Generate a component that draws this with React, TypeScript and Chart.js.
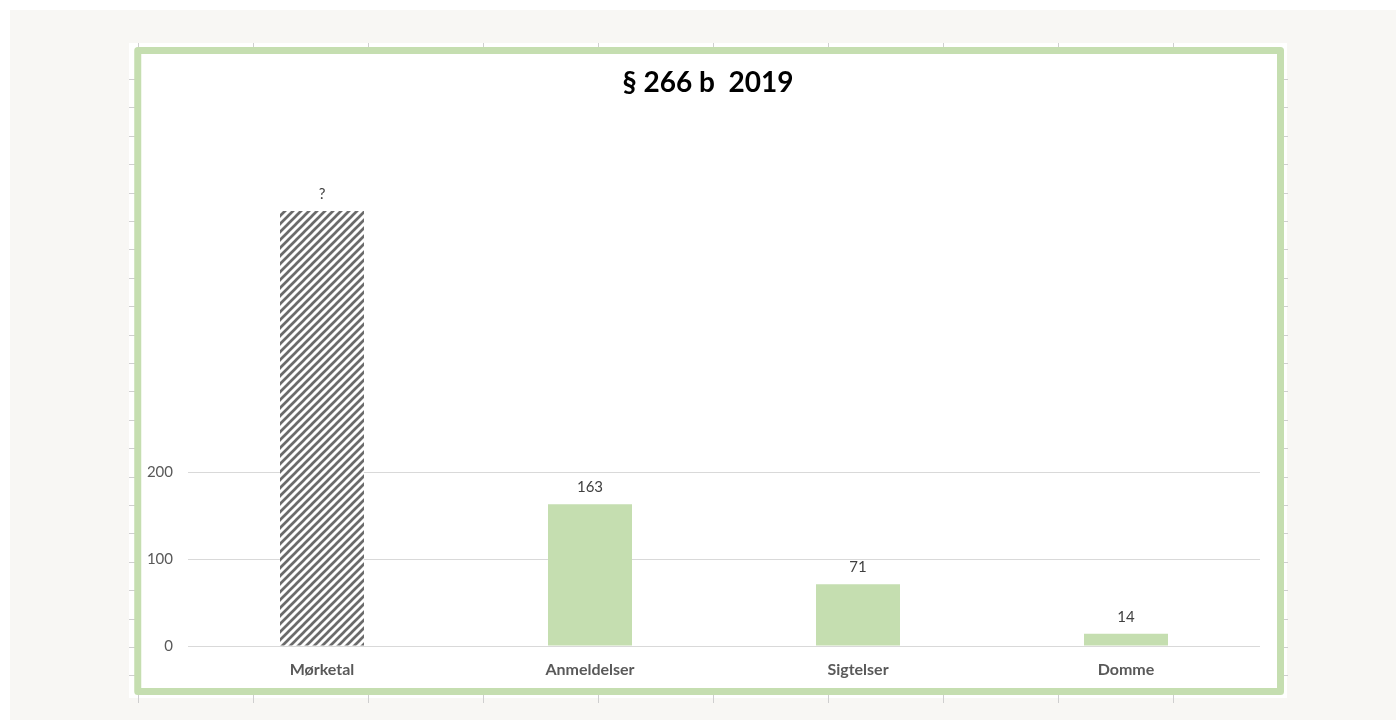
import React, { useEffect, useRef } from "react";
import { Chart, registerables } from "chart.js";

Chart.register(...registerables);

const categories = ["Mørketal", "Anmeldelser", "Sigtelser", "Domme"];
const values = [500, 163, 71, 14];
const valueLabels = ["?", "163", "71", "14"];
const yTickValues = [0, 100, 200];
const titleText = "§ 266 b  2019";

const GREEN = "#c5deb0";
const FONT = "Lato, 'Open Sans', sans-serif";

function makeHatch(): CanvasPattern | string {
  const c = document.createElement("canvas");
  c.width = 8;
  c.height = 8;
  const g = c.getContext("2d");
  if (!g) return "#707070";
  g.fillStyle = "#ffffff";
  g.fillRect(0, 0, 8, 8);
  g.strokeStyle = "#6b6b6b";
  g.lineWidth = 2.7;
  g.lineCap = "square";
  g.beginPath();
  g.moveTo(-2, 10);
  g.lineTo(10, -2);
  g.moveTo(-6, 6);
  g.lineTo(6, -6);
  g.moveTo(2, 14);
  g.lineTo(14, 2);
  g.stroke();
  const p = g.createPattern(c, "repeat");
  return p || "#707070";
}

const framePlugin = {
  id: "frame",
  beforeDraw(chart: any) {
    const ctx = chart.ctx as CanvasRenderingContext2D;
    const W = chart.width;
    const H = chart.height;
    ctx.save();
    ctx.fillStyle = "#ffffff";
    ctx.fillRect(0, 0, W, H);
    ctx.fillStyle = "#f8f7f4";
    ctx.fillRect(10, 10, W - 10, H - 10);
    ctx.fillStyle = "#ffffff";
    ctx.fillRect(129, 43, 1158, 655);
    ctx.strokeStyle = "#cfcfcf";
    ctx.lineWidth = 1;
    ctx.beginPath();
    for (let k = 0; k < 10; k++) {
      const x = Math.round(138 + 115 * k) + 0.5;
      ctx.moveTo(x, 43);
      ctx.lineTo(x, 48);
      ctx.moveTo(x, 694);
      ctx.lineTo(x, 703);
    }
    for (let k = 0; k < 22; k++) {
      const y = Math.round(79 + 28.4 * k) + 0.5;
      ctx.moveTo(129, y);
      ctx.lineTo(135, y);
      ctx.moveTo(1283, y);
      ctx.lineTo(1288, y);
    }
    ctx.stroke();
    ctx.restore();
  },
  afterDraw(chart: any) {
    const ctx = chart.ctx as CanvasRenderingContext2D;
    ctx.save();
    ctx.strokeStyle = GREEN;
    ctx.lineWidth = 7;
    ctx.lineJoin = "round";
    ctx.strokeRect(137.75, 50.5, 1142.75, 641);
    // title
    ctx.fillStyle = "#000000";
    ctx.font = `bold 28px ${FONT}`;
    ctx.textAlign = "center";
    ctx.textBaseline = "middle";
    ctx.fillText(titleText, 708, 83);
    ctx.restore();
  },
};

const valueLabelPlugin = {
  id: "valueLabels",
  afterDatasetsDraw(chart: any) {
    const ctx = chart.ctx as CanvasRenderingContext2D;
    const meta = chart.getDatasetMeta(0);
    ctx.save();
    ctx.fillStyle = "#404040";
    ctx.font = `15px ${FONT}`;
    ctx.textAlign = "center";
    ctx.textBaseline = "middle";
    meta.data.forEach((bar: any, i: number) => {
      ctx.fillText(valueLabels[i], bar.x, bar.y - 17);
    });
    ctx.restore();
  },
};

export default function App() {
  const ref = useRef<HTMLCanvasElement | null>(null);

  useEffect(() => {
    if (!ref.current) return;
    const hatch = makeHatch();
    const colors = values.map((_, i) => (i === 0 ? hatch : GREEN));
    const chart = new Chart(ref.current, {
      type: "bar",
      data: {
        labels: categories,
        datasets: [
          {
            data: values,
            backgroundColor: colors as any,
            borderWidth: 0,
            categoryPercentage: 1,
            barPercentage: 0.3134,
          },
        ],
      },
      options: {
        responsive: false,
        animation: false,
        devicePixelRatio: 1,
        layout: { padding: { left: 141, right: 136, top: 124, bottom: 34 } },
        plugins: {
          legend: { display: false },
          tooltip: { enabled: false },
          title: { display: false },
        },
        scales: {
          x: {
            grid: { display: false },
            border: { display: false },
            ticks: {
              color: "#595959",
              font: { family: FONT, size: 16, weight: "bold" },
              padding: 6,
              maxRotation: 0,
            },
            afterFit(scale: any) {
              scale.height = 40;
            },
          },
          y: {
            min: 0,
            max: 600,
            border: { display: false },
            grid: {
              drawTicks: false,
              color: (c: any) =>
                yTickValues.includes(c.tick?.value) ? "#d9d9d9" : "rgba(0,0,0,0)",
              lineWidth: 1,
            },
            ticks: {
              stepSize: 100,
              padding: 15,
              color: "#595959",
              font: { family: FONT, size: 15 },
              callback: (v: any) => (yTickValues.includes(Number(v)) ? String(v) : ""),
            },
            afterFit(scale: any) {
              scale.width = 47;
            },
          },
        },
      },
      plugins: [framePlugin, valueLabelPlugin],
    });
    return () => chart.destroy();
  }, []);

  return (
    <div style={{ position: "fixed", left: 0, top: 0, width: 1396, height: 720 }}>
      <canvas ref={ref} width={1396} height={720} style={{ display: "block" }} />
    </div>
  );
}
